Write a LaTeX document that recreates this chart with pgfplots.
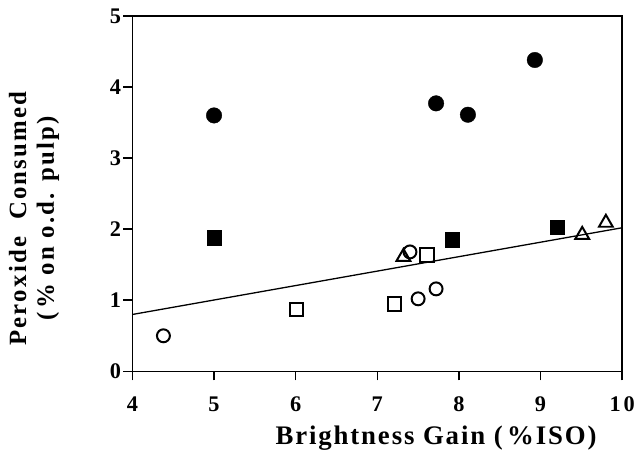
\documentclass[border=0pt]{standalone}
\usepackage{fontspec}
\setmainfont{Liberation Serif}
\newfontfamily\tickfont[LetterSpace=12]{Liberation Serif}
\newfontfamily\ylabfont[LetterSpace=9]{Liberation Serif}
\newfontfamily\xlabfont[LetterSpace=7]{Liberation Serif}
\usepackage{pgfplots}
\pgfplotsset{compat=1.18}
\begin{document}
\begin{tikzpicture}
\begin{axis}[
  scale only axis,
  width=492bp, height=357bp,
  xmin=4, xmax=10, ymin=0, ymax=5,
  xtick={4,5,6,7,8,9,10}, ytick={0,1,2,3,4,5},
  xtick pos=bottom, ytick pos=left,
  tick align=outside,
  major tick length=9bp,
  axis line style={line width=1.6bp},
  every tick/.style={line width=1.6bp, black},
  /pgf/number format/assume math mode=true,
  every tick label/.append style={font=\tickfont\fontsize{22.5}{22.5}\selectfont\bfseries},
  xticklabel style={yshift=-13bp},
  yticklabel style={xshift=1bp},
  xlabel={Brightness Gain (\,\%ISO)},
  every axis x label/.style={at={(axis description cs:0.62,-0.188)}, anchor=center, font=\xlabfont\fontsize{27}{30}\selectfont\bfseries},
  ylabel={Peroxide\ \ Consumed\\(\,\% on o.d. pulp)},
  every axis y label/.style={at={(axis description cs:-0.201,0.43)}, anchor=center, rotate=90, align=center, font=\ylabfont\fontsize{25}{28}\selectfont\bfseries},
  clip=false,
]
% regression line
\addplot[black, line width=1.3bp, no marks] coordinates {(4,0.80) (10,2.02)};
% filled circles
\addplot[only marks, mark=*, mark size=7.8bp, black] coordinates {
(5.00,3.60) (7.72,3.77) (8.11,3.61) (8.93,4.38)};
% filled squares
\addplot[only marks, mark=square*, mark size=7.2bp, black] coordinates {
(5.00,1.88) (7.92,1.85) (9.20,2.03)};
% open triangles
\addplot[only marks, mark=triangle, mark size=8bp, black, line width=2bp, mark options={fill=white}] coordinates {
(7.32,1.61) (9.51,1.92) (9.80,2.09)};
% open squares
\addplot[only marks, mark=square, mark size=6.8bp, black, line width=2bp, mark options={fill=white}] coordinates {
(6.01,0.87) (7.21,0.95) (7.61,1.64)};
% open circles
\addplot[only marks, mark=o, mark size=6.5bp, black, line width=2bp, mark options={fill=white}] coordinates {
(4.38,0.50) (7.50,1.02) (7.72,1.16) (7.40,1.68)};
\end{axis}
\path[use as bounding box] (-133bp,-85bp) rectangle (505bp,373bp);
\end{tikzpicture}
\end{document}
